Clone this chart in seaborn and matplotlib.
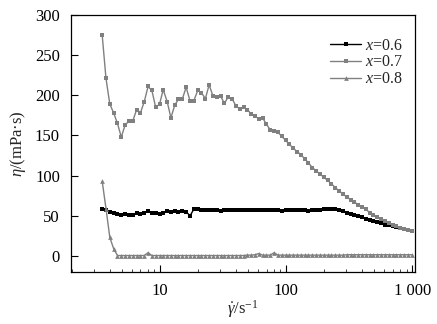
import matplotlib
matplotlib.use("Agg")
import matplotlib.pyplot as plt
import matplotlib.ticker as mticker
import numpy as np
import pandas as pd
import seaborn as sns

# Shear rate (s^-1)
shear_rate = [
    3.48, 3.73, 4.00, 4.29, 4.60, 4.93, 5.29, 5.67, 6.08, 6.52,
    6.99, 7.50, 8.04, 8.62, 9.24, 9.91, 10.6, 11.4, 12.2, 13.1,
    14.0, 15.0, 16.1, 17.3, 18.5, 19.9, 21.3, 22.9, 24.5, 26.3,
    28.2, 30.2, 32.4, 34.7, 37.2, 39.9, 42.8, 45.9, 49.2, 52.8,
    56.6, 60.7, 65.0, 69.7, 74.8, 80.2, 86.0, 92.2, 98.8, 106,
    114, 122, 131, 140, 150, 161, 173, 185, 199, 213,
    228, 245, 263, 282, 302, 324, 347, 372, 399, 428,
    459, 492, 528, 566, 607, 651, 698, 748, 802, 860,
    922, 989,
]

# Viscosity (mPa·s) for each composition
eta_x06 = [
    58.5, 57, 55, 53, 52, 51.5, 52, 51.5, 51, 53,
    52.5, 54, 55.5, 54, 53, 52, 54, 56, 55, 56,
    55, 56, 55, 50, 58, 59, 57.5, 57, 57, 57.5,
    57, 56.5, 57, 57.5, 57, 57, 57.5, 57, 57, 57.5,
    57.5, 57, 57, 57.5, 57, 57, 57, 56.5, 57, 57,
    57.5, 57, 57, 57, 56.5, 57, 57, 57.5, 58, 58.5,
    59, 58, 57, 55.5, 54, 52.5, 51, 49.5, 48, 46.5,
    45, 43.5, 42, 40.5, 39, 38, 37, 36, 35, 33.5,
    32, 30.5,
]
eta_x07 = [
    275, 221, 189, 178, 165, 148, 163, 168, 168, 182,
    178, 192, 211, 206, 185, 189, 207, 192, 172, 188,
    195, 195, 210, 193, 193, 206, 203, 196, 213, 199,
    198, 199, 190, 198, 196, 187, 183, 185, 182, 177,
    174, 171, 172, 164, 157, 155, 154, 149, 144, 139,
    134, 130, 126, 121, 116, 110, 106, 102, 98, 94,
    90, 85, 81, 77, 73.5, 70, 67, 64, 61, 58,
    54, 51, 48.5, 46, 43.5, 41, 39, 37, 35, 33.5,
    32, 30.5,
]
eta_x08 = [
    93, 59, 23, 9, 0.5, 0.5, 0.5, 0.5, 0.5, 0.5,
    0.5, 0.5, 4, 0.5, 0.5, 0.5, 0.5, 0.5, 0.5, 0.5,
    0.5, 0.5, 0.5, 0.5, 0.5, 0.5, 0.5, 0.5, 0.5, 0.5,
    0.5, 0.5, 0.5, 0.5, 0.5, 0.5, 0.5, 0.5, 1, 1,
    1.5, 3, 1, 1, 1, 4, 1, 1, 1, 1,
    1, 1, 1, 1, 1, 1, 1, 1, 1, 1,
    1, 1, 1, 1, 1.5, 1.5, 1.5, 1.5, 1.5, 1.5,
    1.5, 1.5, 1.5, 1.5, 1.5, 1.5, 1.5, 1.5, 1.5, 1.5,
    1.5, 1.5,
]

series_labels = ["$x$=0.6", "$x$=0.7", "$x$=0.8"]
x_tick_values = [10, 100, 1000]
x_tick_labels = ["10", "100", "1 000"]
y_tick_values = [0, 50, 100, 150, 200, 250, 300]

df = pd.concat([
    pd.DataFrame({"rate": shear_rate, "eta": vals, "series": lab})
    for vals, lab in zip([eta_x06, eta_x07, eta_x08], series_labels)
], ignore_index=True)

sns.set_theme(style="white")
plt.rcParams["font.family"] = ["Liberation Serif", "DejaVu Serif"]
plt.rcParams["mathtext.fontset"] = "custom"
plt.rcParams["mathtext.rm"] = "Liberation Serif"
plt.rcParams["mathtext.it"] = "Liberation Serif:italic"
plt.rcParams["font.size"] = 12

fig = plt.figure(figsize=(4.37, 3.24), dpi=100)
ax = fig.add_axes([0.1625, 0.1605, 0.7872, 0.7932])

palette = {series_labels[0]: "black", series_labels[1]: "#808080", series_labels[2]: "#808080"}
markers = {series_labels[0]: "s", series_labels[1]: "s", series_labels[2]: "^"}

sns.lineplot(
    data=df, x="rate", y="eta", hue="series", style="series",
    palette=palette, markers=markers, dashes=False, estimator=None,
    sort=False, ax=ax, linewidth=1.0, markersize=3.4,
    markeredgewidth=0, legend=True,
)

ax.set_xscale("log")
ax.set_xlim(1.97, 1050)
ax.set_ylim(-20, 300)
ax.xaxis.set_major_locator(mticker.FixedLocator(x_tick_values))
ax.xaxis.set_major_formatter(mticker.FixedFormatter(x_tick_labels))
ax.xaxis.set_minor_locator(mticker.LogLocator(base=10, subs=np.arange(2, 10)))
ax.xaxis.set_minor_formatter(mticker.NullFormatter())
ax.set_yticks(y_tick_values)

ax.tick_params(axis="y", which="major", direction="in", length=5, width=0.8,
               colors="black", labelsize=12, labelcolor="black",
               left=True, right=False, pad=8)
ax.tick_params(axis="x", which="major", direction="in", length=5, width=0.8,
               colors="black", labelsize=12, labelcolor="black",
               bottom=True, top=False, pad=8)
ax.tick_params(axis="x", which="minor", direction="in", length=2.5, width=0.6,
               bottom=True, top=False)

for sp in ax.spines.values():
    sp.set_color("black")
    sp.set_linewidth(0.9)

ax.set_xlabel(r"$\dot{\gamma}$/s$^{-1}$", fontsize=12, labelpad=-1)
ax.set_ylabel(r"$\eta$/(mPa·s)", fontsize=12, labelpad=5)

handles, labels = ax.get_legend_handles_labels()
leg = ax.legend(handles, labels, loc="upper right", bbox_to_anchor=(0.965, 0.912),
                frameon=False, fontsize=11.5, handlelength=1.9, handletextpad=0.27,
                labelspacing=0.05, borderaxespad=0.0, borderpad=0.0)

fig.savefig("out.png", dpi=100, facecolor="white")
